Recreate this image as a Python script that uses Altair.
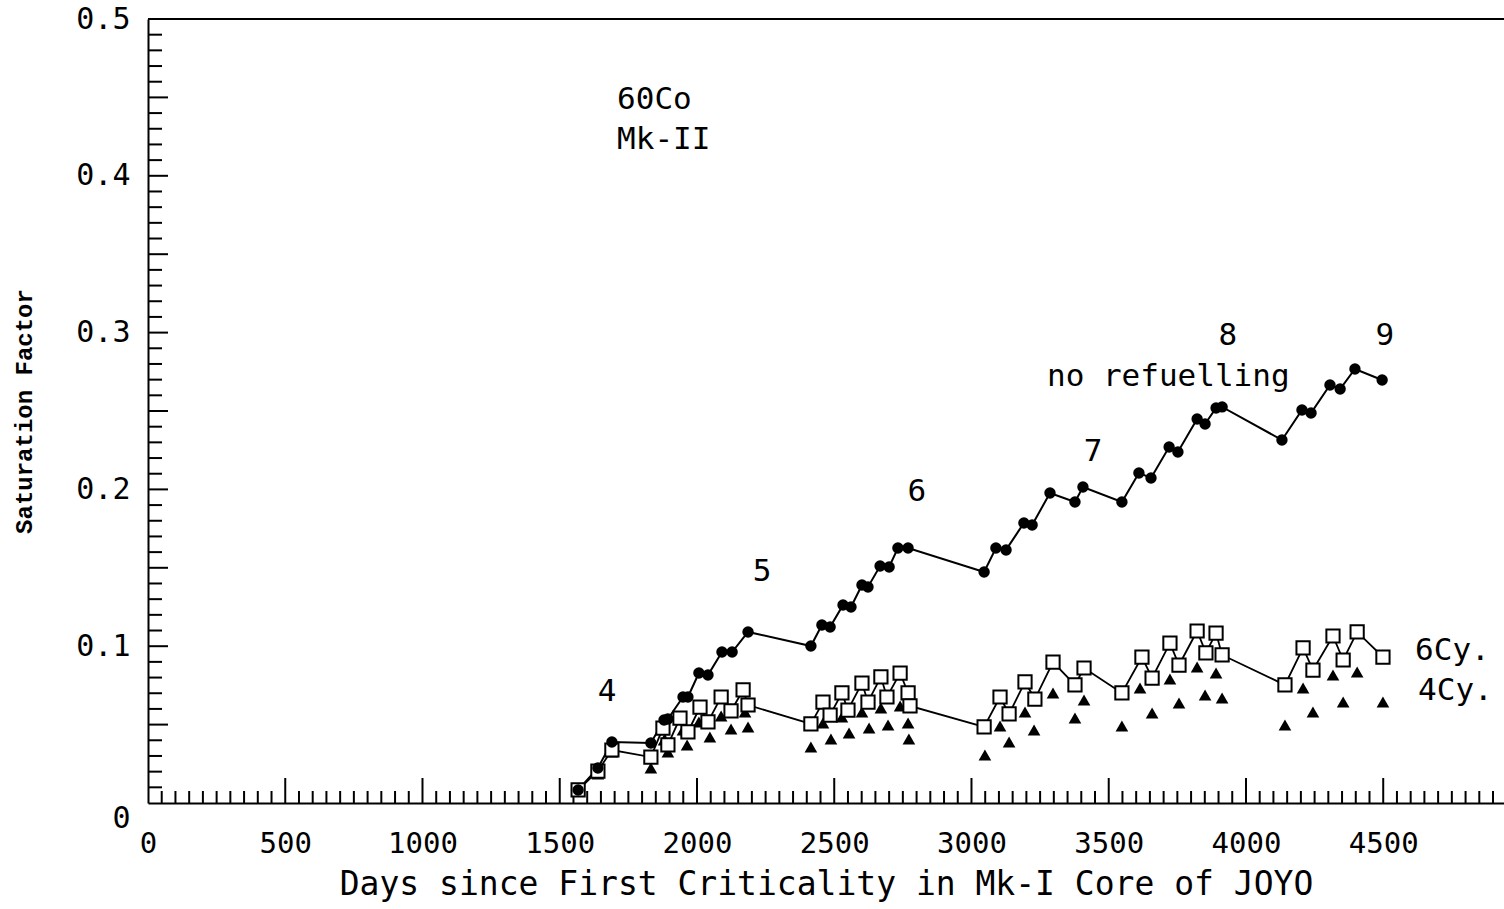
import altair as alt
import pandas as pd

# ---- data (days, saturation factor) ----
nr_days = [1567, 1639, 1690, 1832, 1880, 1894, 1949, 1967, 2007, 2040, 2091, 2128, 2186,
           2415, 2455, 2485, 2532, 2561, 2601, 2623, 2667, 2700, 2732, 2769,
           3046, 3089, 3126, 3191, 3221, 3286, 3377, 3406, 3548, 3610, 3654, 3720, 3752,
           3822, 3851, 3891, 3913, 4131, 4204, 4237, 4306, 4343, 4397, 4496]
nr_vals = [0.0083, 0.0223, 0.0389, 0.0383, 0.0529, 0.0536, 0.0676, 0.0676, 0.0829, 0.0816,
           0.0963, 0.0963, 0.1091, 0.1001, 0.1135, 0.1122, 0.1263, 0.1250, 0.1390, 0.1378,
           0.1511, 0.1505, 0.1626, 0.1626, 0.1473, 0.1626, 0.1614, 0.1786, 0.1773, 0.1977,
           0.1920, 0.2015, 0.1920, 0.2105, 0.2073, 0.2270, 0.2239, 0.2449, 0.2417, 0.2519,
           0.2526, 0.2315, 0.2506, 0.2487, 0.2666, 0.2640, 0.2768, 0.2698]

c6_days = [1567, 1639, 1690, 1832, 1876, 1894, 1938, 1967, 2011, 2040, 2088, 2124, 2168, 2186,
           2415, 2459, 2485, 2528, 2550, 2601, 2623, 2670, 2692, 2740, 2769, 2776,
           3046, 3104, 3137, 3195, 3231, 3297, 3377, 3410, 3548, 3621, 3658, 3723, 3756,
           3822, 3854, 3891, 3913, 4142, 4208, 4244, 4317, 4354, 4405, 4499]
c6_vals = [0.0083, 0.0204, 0.0338, 0.0293, 0.0478, 0.0370, 0.0542, 0.0453, 0.0612, 0.0517,
           0.0676, 0.0587, 0.0721, 0.0625, 0.0504, 0.0644, 0.0561, 0.0702, 0.0593, 0.0765,
           0.0644, 0.0804, 0.0676, 0.0829, 0.0702, 0.0619, 0.0485, 0.0676, 0.0568, 0.0772,
           0.0663, 0.0899, 0.0753, 0.0861, 0.0702, 0.0931, 0.0797, 0.1020, 0.0880, 0.1097,
           0.0957, 0.1084, 0.0944, 0.0753, 0.0989, 0.0848, 0.1065, 0.0912, 0.1091, 0.0931]

c4_days = [1567, 1639, 1690, 1832, 1880, 1894, 1949, 1964, 2007, 2047, 2088, 2124, 2175, 2186,
           2415, 2459, 2488, 2528, 2554, 2601, 2627, 2670, 2696, 2740, 2769, 2772,
           3049, 3104, 3137, 3195, 3228, 3297, 3377, 3410, 3548, 3614, 3658, 3723, 3756,
           3822, 3851, 3891, 3913, 4142, 4208, 4244, 4317, 4354, 4405, 4499]
c4_vals = [0.0077, 0.0185, 0.0325, 0.0223, 0.0402, 0.0325, 0.0466, 0.0370, 0.0517, 0.0421,
           0.0555, 0.0472, 0.0580, 0.0485, 0.0357, 0.0510, 0.0408, 0.0548, 0.0446, 0.0580,
           0.0478, 0.0606, 0.0497, 0.0619, 0.0510, 0.0408, 0.0306, 0.0491, 0.0389, 0.0580,
           0.0466, 0.0702, 0.0542, 0.0657, 0.0491, 0.0733, 0.0574, 0.0791, 0.0638, 0.0867,
           0.0689, 0.0829, 0.0670, 0.0497, 0.0733, 0.0580, 0.0816, 0.0644, 0.0835, 0.0644]

ann_text = ["60Co", "Mk-II", "4", "5", "6", "7", "8", "9", "no refuelling", "6Cy.", "4Cy."]
ann_day = [1709, 1709, 1672, 2237, 2801, 3443, 3934, 4506, 3275, 4616, 4627]
ann_val = [0.4483, 0.4228, 0.0708, 0.1473, 0.1983, 0.2239, 0.2978, 0.2978, 0.2717, 0.0969, 0.0714]
ann_align = ["left", "left", "center", "center", "center", "center", "center", "center",
             "left", "left", "left"]

x_label_values = [0, 500, 1000, 1500, 2000, 2500, 3000, 3500, 4000, 4500]
y_label_values = [0, 0.1, 0.2, 0.3, 0.4, 0.5]

# ---- layout ----
W, H = 1356, 784
XMAX = 4940
MONO = "DejaVu Sans Mono"

xs = alt.Scale(domain=[0, XMAX], nice=False, zero=False)
ys = alt.Scale(domain=[0, 0.5], nice=False)

x_axis = alt.Axis(values=x_label_values, format="d", title="Days since First Criticality in Mk-I Core of JOYO",
                  ticks=False, tickSize=0, grid=False, domain=True, domainColor="black", domainWidth=2,
                  labelFont=MONO, labelFontSize=29, labelColor="black", labelPadding=26,
                  titleFont=MONO, titleFontSize=33, titleFontWeight="normal", titleColor="black",
                  titlePadding=10, labelFlush=False)
y_axis = alt.Axis(values=y_label_values, title="Saturation Factor",
                  labelExpr="datum.value === 0 ? '0' : format(datum.value, '.1f')",
                  labelBaseline={"condition": {"test": "datum.value === 0", "value": "top"}, "value": "middle"},
                  ticks=False, tickSize=0, grid=False, domain=True, domainColor="black", domainWidth=2,
                  labelFont=MONO, labelFontSize=30, labelColor="black", labelPadding=18,
                  titleFont="Liberation Mono", titleFontSize=24, titleFontWeight="bold", titleColor="black",
                  titleX=-124, titleY=392, titleAngle=270, titleAlign="center", titleBaseline="middle",
                  labelFlush=False)

X = alt.X("day:Q", scale=xs, axis=x_axis)
Y = alt.Y("val:Q", scale=ys, axis=y_axis)


def frame(days, vals):
    return pd.DataFrame({"day": days, "val": vals, "i": list(range(len(days)))})


nr = frame(nr_days, nr_vals)
c6 = frame(c6_days, c6_vals)
c4 = frame(c4_days, c4_vals)
ann = pd.DataFrame({"day": ann_day, "val": ann_val, "t": ann_text, "a": ann_align})

# tick marks (inward)
x_minor = pd.DataFrame({"day": [d for d in range(0, 4950, 50) if d % 500 != 0]})
x_major = pd.DataFrame({"day": [d for d in range(500, 4950, 500)]})
y_minor = pd.DataFrame({"val": [k / 100 for k in range(1, 50) if k % 5 != 0]})
y_mid = pd.DataFrame({"val": [k / 100 for k in range(5, 50, 5)]})

layers = [
    alt.Chart(x_minor).mark_rule(color="black", strokeWidth=2).encode(x=X, y=alt.value(H), y2=alt.value(H - 12)),
    alt.Chart(x_major).mark_rule(color="black", strokeWidth=2).encode(x=X, y=alt.value(H), y2=alt.value(H - 25)),
    alt.Chart(y_minor).mark_rule(color="black", strokeWidth=2).encode(y=Y, x=alt.value(0), x2=alt.value(14)),
    alt.Chart(y_mid).mark_rule(color="black", strokeWidth=2).encode(y=Y, x=alt.value(0), x2=alt.value(20)),
    alt.Chart(pd.DataFrame({"a": [0]})).mark_rule(color="black", strokeWidth=2).encode(
        x=alt.value(0), x2=alt.value(W), y=alt.value(0)),
    alt.Chart(nr).mark_line(color="black", strokeWidth=2).encode(x=X, y=Y, order="i:Q"),
    alt.Chart(c6).mark_line(color="black", strokeWidth=1.8).encode(x=X, y=Y, order="i:Q"),
    alt.Chart(c4).mark_point(shape="triangle-up", filled=True, color="black", size=160, opacity=1).encode(x=X, y=Y),
    alt.Chart(c6).mark_point(shape="square", filled=True, fill="white", stroke="black", strokeWidth=2,
                             size=175, opacity=1).encode(x=X, y=Y),
    alt.Chart(nr).mark_point(shape="circle", filled=True, color="black", size=130, opacity=1).encode(x=X, y=Y),
]

for al in ["left", "center"]:
    layers.append(
        alt.Chart(ann[ann["a"] == al]).mark_text(font=MONO, fontSize=31, color="black", align=al,
                                                 baseline="middle").encode(x=X, y=Y, text="t:N")
    )

chart = alt.layer(*layers).properties(
    width=W, height=H,
    autosize=alt.AutoSizeParams(type="none"),
    padding={"left": 148, "top": 19, "right": 0, "bottom": 106},
    background="white",
).configure_view(stroke=None)

chart.save("out.html", embed_options={"renderer": "svg", "actions": False})
